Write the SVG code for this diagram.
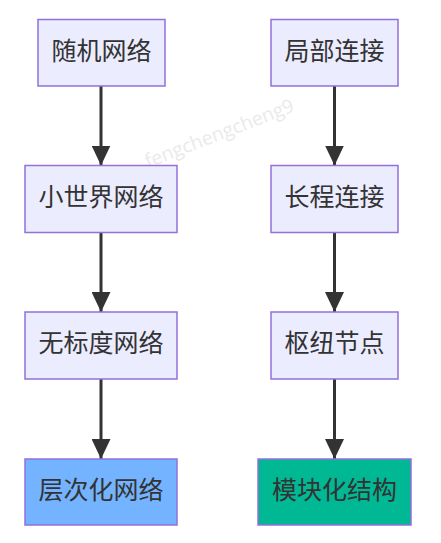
<svg xmlns="http://www.w3.org/2000/svg" width="441" height="543" viewBox="0 0 441 543">
<style>
.n{fill:#ECECFF;stroke:#9370DB;stroke-width:1.5}
.t{font-family:"Noto Sans CJK SC","Noto Sans",sans-serif;font-size:25px;fill:#333;text-anchor:middle;dominant-baseline:central}
.e{stroke:#333;stroke-width:3;fill:none}
.wm{font-family:"Open Sans","DejaVu Sans",sans-serif;font-size:19px;fill:#eaeaea}
</style>
<defs>
<marker id="a" viewBox="0 0 20 19" refX="20" refY="9.5" markerWidth="20" markerHeight="19" markerUnits="userSpaceOnUse" orient="auto">
<path d="M0,0 L20,9.5 L0,19 Z" fill="#333"/>
</marker>
</defs>
<rect width="441" height="543" fill="#fff"/>
<text class="wm" x="148" y="168" transform="rotate(-21.2 148 168)" textLength="158" lengthAdjust="spacingAndGlyphs">fengchengcheng9</text>
<g id="edges">
<line class="e" x1="101" y1="86" x2="101" y2="165.5" marker-end="url(#a)"/>
<line class="e" x1="101" y1="232.5" x2="101" y2="312" marker-end="url(#a)"/>
<line class="e" x1="101" y1="379" x2="101" y2="459" marker-end="url(#a)"/>
<line class="e" x1="334.5" y1="86" x2="334.5" y2="165.5" marker-end="url(#a)"/>
<line class="e" x1="334.5" y1="232.5" x2="334.5" y2="312" marker-end="url(#a)"/>
<line class="e" x1="334.5" y1="379" x2="334.5" y2="459" marker-end="url(#a)"/>
</g>
<g id="n1"><rect class="n" x="38" y="19.5" width="127" height="66.5"/><text class="t" x="101.5" y="48.5">随机网络</text></g>
<g id="n2"><rect class="n" x="25" y="165.5" width="152" height="67"/><text class="t" x="101" y="194.5">小世界网络</text></g>
<g id="n3"><rect class="n" x="25" y="312" width="152" height="67"/><text class="t" x="101" y="341">无标度网络</text></g>
<g id="n4"><rect class="n" x="25" y="459" width="152" height="66" style="fill:#74B3FF"/><text class="t" x="101" y="488">层次化网络</text></g>
<g id="m1"><rect class="n" x="271" y="19.5" width="127" height="66.5"/><text class="t" x="334.5" y="48.5">局部连接</text></g>
<g id="m2"><rect class="n" x="271" y="165.5" width="127" height="67"/><text class="t" x="334.5" y="194.5">长程连接</text></g>
<g id="m3"><rect class="n" x="271" y="312" width="127" height="67"/><text class="t" x="334.5" y="341">枢纽节点</text></g>
<g id="m4"><rect class="n" x="258" y="459" width="153" height="66" style="fill:#00B894"/><text class="t" x="334.5" y="488">模块化结构</text></g>
</svg>
